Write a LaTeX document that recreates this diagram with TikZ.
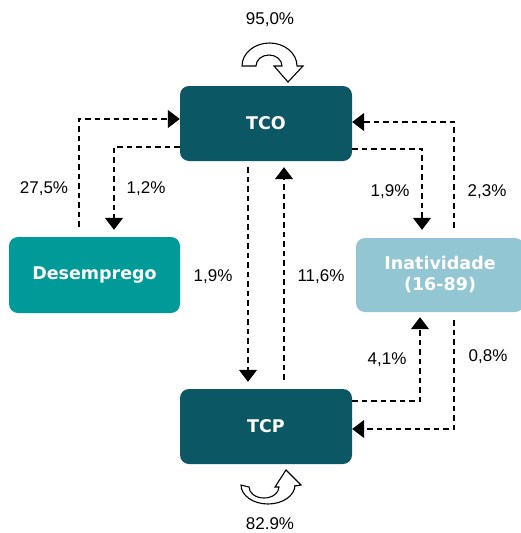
\documentclass[tikz,border=0pt]{standalone}
\usepackage{fontspec}
\setmainfont{Liberation Sans}
\newfontfamily\boxfont{DejaVu Sans}
\usetikzlibrary{arrows.meta,calc}
\definecolor{dteal}{HTML}{0B5864}
\definecolor{mteal}{HTML}{009B98}
\definecolor{lblue}{HTML}{93C6D3}
\begin{document}
\begin{tikzpicture}[x=1pt,y=-1pt,
  box/.style={rounded corners=9pt, minimum width=172pt, minimum height=75pt, inner sep=0pt, text=white, font=\boxfont\fontsize{17.5}{21}\selectfont\bfseries, align=center},
  flow/.style={line width=1.3pt, dash pattern=on 5.5pt off 4pt, -{Triangle[width=18pt,length=12pt]}},
  lbl/.style={font=\fontsize{17}{20}\selectfont, inner sep=0pt},
  uarrow/.style={draw=black, fill=white, line width=1.1pt, line join=miter}]
\useasboundingbox (0,0) rectangle (520,533);
\node[box, fill=dteal] (tco) at (266,123.5) {TCO};
\node[box, fill=dteal] (tcp) at (266,426.5) {TCP};
\node[box, fill=mteal, minimum width=171pt, minimum height=76pt] (des) at (94.5,275) {Desemprego};
\node[box, fill=lblue, minimum width=168pt, minimum height=74pt] (ina) at (440,275) {Inatividade\\(16-89)};

\draw[flow] ($(des.north)+(-15.5,-10)$) |- ($(tco.west)+(0,-4.5)$);
\draw[flow] ($(tco.west)+(0,23.5)$) -| ($(des.north)+(19.5,-7)$);
\draw[flow] ($(tco.south)+(-18,6)$) -- ($(tcp.north)+(-18,-7)$);
\draw[flow] ($(tcp.north)+(18,-9)$) -- ($(tco.south)+(18,6)$);
\draw[flow] ($(tco.east)+(0,25.5)$) -| ($(ina.north)+(-18,-8)$);
\draw[flow] ($(ina.north)+(14,-10)$) |- ($(tco.east)+(0,-1.5)$);
\draw[flow] ($(tcp.east)+(0,-25.5)$) -| ($(ina.south)+(-20,5)$);
\draw[flow] ($(ina.south)+(14,8)$) |- ($(tcp.east)+(0,2.5)$);

\node[lbl] (l1) at (44,189) {27,5\%};
\node[lbl] (l2) at (146,189) {1,2\%};
\node[lbl] (l3) at (213,277) {1,9\%};
\node[lbl] (l4) at (321,277) {11,6\%};
\node[lbl] (l5) at (390,192) {1,9\%};
\node[lbl] (l6) at (487,192) {2,3\%};
\node[lbl] (l7) at (387,360) {4,1\%};
\node[lbl] (l8) at (488,357) {0,8\%};
\node[lbl] (l9) at (270,20) {95,0\%};
\node[lbl] (l10) at (270,524) {82.9\%};

\draw[uarrow] (242,66) arc[start angle=180,end angle=0,x radius=27.5pt,y radius=23pt] -- (303,66) -- (288,82) -- (274,66) -- (282,66) arc[start angle=0,end angle=180,x radius=13pt,y radius=11pt] -- cycle;
\draw[uarrow] (241,485) arc[start angle=180,end angle=360,x radius=27pt,y radius=19pt] -- (295,486) -- (301,485) -- (286,470) -- (275,487) -- (279,487) arc[start angle=0,end angle=-180,x radius=15pt,y radius=11pt] -- cycle;
\end{tikzpicture}
\end{document}
